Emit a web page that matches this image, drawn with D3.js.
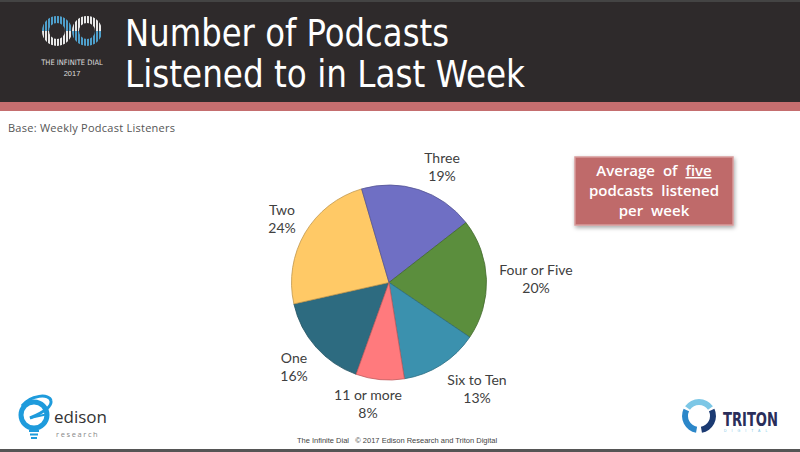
<!DOCTYPE html>
<html><head><meta charset="utf-8">
<script src="https://cdn.jsdelivr.net/npm/d3@7"></script>
<style>body{margin:0;background:#fff}svg{display:block}</style>
</head><body>
<svg id="c" width="800" height="452"></svg>
<script>
const categories = ["One", "Two", "Three", "Four or Five", "Six to Ten", "11 or more"];
const values = [16, 24, 19, 20, 13, 8];
const colors = ["#2D6B80", "#FFC966", "#6F6FC4", "#5B8E3D", "#3B91AE", "#FF7A7D"];
const labelPos = [[294, 363], [282, 215], [442, 163], [536, 275], [477, 385], [368, 400]];
const titleLines = ["Number of Podcasts", "Listened to in Last Week"];
const calloutLines = ["Average of five", "podcasts listened", "per week"];

const svg = d3.select("#c");
const defs = svg.append("defs");
function stripe(id, col) {
  const p = defs.append("pattern").attr("id", id).attr("width", 3).attr("height", 10).attr("patternUnits", "userSpaceOnUse");
  p.append("rect").attr("width", 2).attr("height", 10).attr("fill", col);
}
stripe("sb", "#4E9FCB"); stripe("sw", "#E8E8E8");
const f = defs.append("filter").attr("id", "sh").attr("x", "-20%").attr("y", "-20%").attr("width", "140%").attr("height", "150%");
f.append("feDropShadow").attr("dx", 1).attr("dy", 2).attr("stdDeviation", 2).attr("flood-color", "#000").attr("flood-opacity", 0.35);

// header
svg.append("rect").attr("x", 0).attr("y", 0).attr("width", 800).attr("height", 102).attr("fill", "#2E2A2B");
svg.append("rect").attr("x", 0).attr("y", 0).attr("width", 800).attr("height", 2).attr("fill", "#444");
svg.append("rect").attr("x", 0).attr("y", 102).attr("width", 800).attr("height", 9).attr("fill", "#C56E6F");

// infinity logo
const lg = svg.append("g");
const arc = d3.arc();
[[57, 31, "sb", "sw"], [87, 31, "sw", "sb"]].forEach(([cx, cy, top, bot]) => {
  lg.append("path").attr("transform", `translate(${cx},${cy})`)
    .attr("d", arc({innerRadius: 8, outerRadius: 15, startAngle: -Math.PI / 2, endAngle: Math.PI / 2}))
    .attr("fill", `url(#${top})`);
  lg.append("path").attr("transform", `translate(${cx},${cy})`)
    .attr("d", arc({innerRadius: 8, outerRadius: 15, startAngle: Math.PI / 2, endAngle: 3 * Math.PI / 2}))
    .attr("fill", `url(#${bot})`);
});
lg.append("text").attr("x", 72).attr("y", 65).attr("text-anchor", "middle").attr("font-family", "Liberation Sans Narrow, DejaVu Sans Condensed, Arial, sans-serif")
  .attr("font-size", 7.5).attr("fill", "#ddd").text("THE INFINITE DIAL");
lg.append("text").attr("x", 72).attr("y", 76).attr("text-anchor", "middle").attr("font-family", "Liberation Sans Narrow, Arial, sans-serif")
  .attr("font-size", 7.5).attr("fill", "#ddd").text("2017");

// title
const tw = [324, 400];
titleLines.forEach((t, i) => {
  svg.append("text").attr("x", 125).attr("y", 46 + i * 41).attr("fill", "#fff")
    .attr("font-family", "Liberation Sans Narrow, DejaVu Sans Condensed, Arial Narrow, sans-serif")
    .attr("font-size", 37).attr("textLength", tw[i]).attr("lengthAdjust", "spacingAndGlyphs").text(t);
});

// base
svg.append("text").attr("x", 8).attr("y", 132).attr("font-family", "Open Sans, sans-serif").attr("font-size", 11)
  .attr("fill", "#555").attr("textLength", 167).attr("lengthAdjust", "spacing").text("Base: Weekly Podcast Listeners");

// pie
const cx = 389, cy = 282.5, R = 97.5;
const pie = d3.pie().sort(null).value(d => d).startAngle(199.7 * Math.PI / 180).endAngle((199.7 + 360) * Math.PI / 180);
const arcs = pie(values);
const pa = d3.arc().innerRadius(0).outerRadius(R);
const pg = svg.append("g").attr("transform", `translate(${cx},${cy})`);
pg.selectAll("path").data(arcs).join("path").attr("d", pa)
  .attr("fill", (d, i) => colors[i]).attr("stroke", (d, i) => d3.color(colors[i]).darker(0.8)).attr("stroke-width", 0.8);

// labels
const lab = svg.append("g").attr("font-family", "Lato, Open Sans, sans-serif").attr("font-size", 14).attr("fill", "#404040").attr("text-anchor", "middle");
categories.forEach((c, i) => {
  lab.append("text").attr("x", labelPos[i][0]).attr("y", labelPos[i][1]).text(c);
  lab.append("text").attr("x", labelPos[i][0]).attr("y", labelPos[i][1] + 18).text(values[i] + "%");
});

// callout
svg.append("rect").attr("x", 575).attr("y", 157).attr("width", 158).attr("height", 68).attr("fill", "#BF6B6B")
  .attr("stroke", "#D79A9A").attr("stroke-width", 1.5).attr("filter", "url(#sh)");
const ct = svg.append("g").attr("font-family", "Open Sans, sans-serif").attr("font-size", 15).attr("font-weight", 600)
  .attr("fill", "#fff").attr("text-anchor", "middle").attr("word-spacing", 4);
calloutLines.forEach((t, i) => {
  const tx = ct.append("text").attr("x", 654).attr("y", 176 + i * 20);
  if (i === 0) {
    tx.append("tspan").text("Average of ");
    tx.append("tspan").attr("text-decoration", "underline").text("five");
  } else tx.text(t);
});

// edison logo
const eg = svg.append("g");
eg.append("ellipse").attr("cx", 34).attr("cy", 415).attr("rx", 13).attr("ry", 13).attr("fill", "none").attr("stroke", "#1E9BDC").attr("stroke-width", 5);
eg.append("path").attr("d", "M22,406 C30,395 50,393 51,401 C52,407 42,413 30,418").attr("fill", "none").attr("stroke", "#1E9BDC").attr("stroke-width", 3);
eg.append("path").attr("d", "M30,418 L48,414").attr("stroke", "#1E9BDC").attr("stroke-width", 2);
eg.append("path").attr("d", "M29,431 L39,431 M30,434.5 L38,434.5 M31,438 L37,438").attr("stroke", "#1E9BDC").attr("stroke-width", 1.8);
eg.append("text").attr("x", 54).attr("y", 423).attr("font-family", "Open Sans, sans-serif").attr("font-size", 17).attr("fill", "#333").text("edison");
eg.append("text").attr("x", 56).attr("y", 436.5).attr("font-family", "Open Sans, sans-serif").attr("font-size", 7.5).attr("fill", "#888").attr("letter-spacing", 1.6).text("research");

// triton logo
const tg = svg.append("g").attr("transform", "translate(699,416)");
const ta = d3.arc().innerRadius(11).outerRadius(17);
[[-55, 55, "#7CC7E6"], [65, 170, "#1B3A72"], [190, 295, "#2C87C9"]].forEach(([s, e, c]) => {
  tg.append("path").attr("d", ta({startAngle: s * Math.PI / 180, endAngle: e * Math.PI / 180, cornerRadius: 3})).attr("fill", c);
});
svg.append("text").attr("x", 723).attr("y", 426).attr("font-family", "Liberation Sans Narrow, DejaVu Sans Condensed, sans-serif").attr("font-weight", "bold")
  .attr("font-size", 19).attr("fill", "#2A2E5A").attr("textLength", 55).attr("lengthAdjust", "spacingAndGlyphs").text("TRITON");
svg.append("text").attr("x", 724).attr("y", 432).attr("font-family", "Arial, sans-serif").attr("font-size", 3.5).attr("fill", "#7CC7E6")
  .attr("letter-spacing", 5).text("DIGITAL");

// footer
svg.append("text").attr("x", 397).attr("y", 443).attr("text-anchor", "middle").attr("font-family", "Liberation Sans, Arial, sans-serif")
  .attr("font-size", 7.5).attr("fill", "#444").attr("xml:space", "preserve").text("The Infinite Dial   © 2017 Edison Research and Triton Digital");
svg.append("rect").attr("x", 0).attr("y", 449).attr("width", 800).attr("height", 3).attr("fill", "#555");
</script>
</body></html>
